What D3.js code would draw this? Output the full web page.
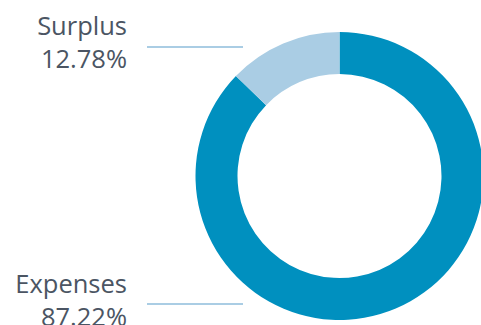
<!DOCTYPE html>
<html><head><meta charset="utf-8">
<script src="https://cdn.jsdelivr.net/npm/d3@7"></script>
<style>body{margin:0;background:#fff;}svg{display:block;}</style>
</head><body>
<svg id="c" width="481" height="325"></svg>
<script>
const categories = ["Expenses", "Surplus"];
const values = [87.22, 12.78];
const labels = ["87.22%", "12.78%"];
const colors = ["#0090bf", "#aacde4"];

const svg = d3.select("#c");
const cx = 339.5, cy = 176, rOut = 144, rIn = 102;
const g = svg.append("g").attr("transform", `translate(${cx},${cy})`);
const pie = d3.pie().sort(null).value(d => d)(values);
const arc = d3.arc().innerRadius(rIn).outerRadius(rOut);
g.selectAll("path").data(pie).join("path")
  .attr("d", arc).attr("fill", (d, i) => colors[i]);

// labels
const labelPos = [{lineY: 304, y1: 293}, {lineY: 47, y1: 35}];
const font = "'Open Sans', sans-serif";
categories.forEach((c, i) => {
  const p = labelPos[i];
  svg.append("line").attr("x1", 147).attr("x2", 243)
    .attr("y1", p.lineY).attr("y2", p.lineY)
    .attr("stroke", "#aacde4").attr("stroke-width", 2);
  const t = svg.append("text").attr("text-anchor", "end")
    .attr("font-family", font).attr("font-size", 25.5).attr("fill", "#4b5563");
  t.append("tspan").attr("x", 127).attr("y", p.y1).text(c);
  t.append("tspan").attr("x", 127).attr("y", p.y1 + 33).text(labels[i]);
});
</script>
</body></html>
